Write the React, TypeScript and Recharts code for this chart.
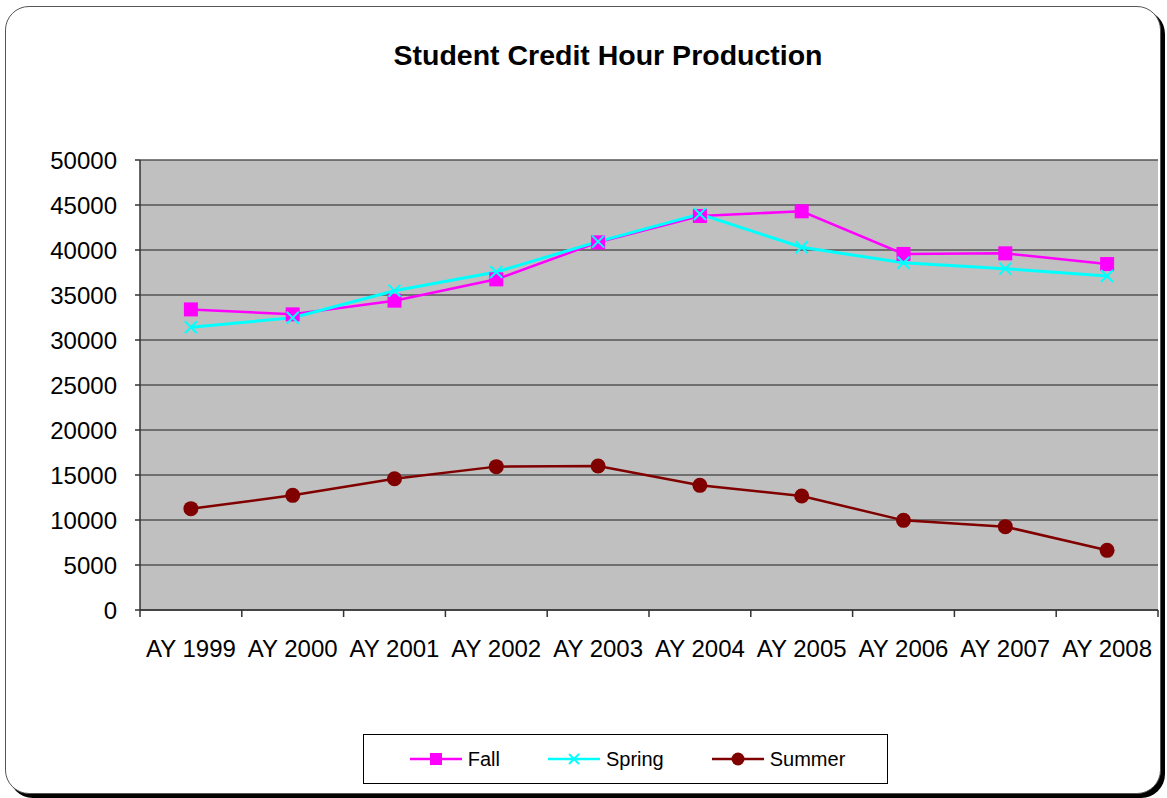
import { CartesianGrid, Legend, Line, LineChart, XAxis, YAxis } from 'recharts'

const years = ['AY 1999', 'AY 2000', 'AY 2001', 'AY 2002', 'AY 2003', 'AY 2004', 'AY 2005', 'AY 2006', 'AY 2007', 'AY 2008']
const fall = [33400, 32850, 34370, 36740, 40850, 43780, 44300, 39560, 39630, 38440]
const spring = [31410, 32480, 35480, 37560, 40930, 44000, 40300, 38590, 37930, 37110]
const summer = [11260, 12740, 14590, 15930, 16000, 13850, 12670, 9960, 9260, 6630]
const yTicks = [0, 5000, 10000, 15000, 20000, 25000, 30000, 35000, 40000, 45000, 50000]

const data = years.map((year, i) => ({ year, fall: fall[i], spring: spring[i], summer: summer[i] }))

const FONT = '"Liberation Sans", Arial, sans-serif'
const FALL = '#FF00FF'
const SPRING = '#00FFFF'
const SUMMER = '#800000'

const SquareDot = (props: any) => {
  const { cx, cy } = props
  if (cx == null || cy == null) return null
  return <rect x={cx - 7} y={cy - 7} width={14} height={14} fill={FALL} />
}

const CrossDot = (props: any) => {
  const { cx, cy } = props
  if (cx == null || cy == null) return null
  return (
    <g stroke={SPRING} strokeWidth={2}>
      <line x1={cx - 6} y1={cy - 6} x2={cx + 6} y2={cy + 6} />
      <line x1={cx - 6} y1={cy + 6} x2={cx + 6} y2={cy - 6} />
    </g>
  )
}

const CircleDot = (props: any) => {
  const { cx, cy } = props
  if (cx == null || cy == null) return null
  return <circle cx={cx} cy={cy} r={7.5} fill={SUMMER} />
}

// excel puts the tick marks between categories, label in the middle
const YearTick = (props: any) => {
  const { x, y, payload, index } = props
  const half = payload?.offset ?? 0
  return (
    <g>
      <line x1={x - half} y1={y} x2={x - half} y2={y + 7} stroke="#333" strokeWidth={1.5} />
      {index === years.length - 1 && (
        <line x1={x + half} y1={y} x2={x + half} y2={y + 7} stroke="#333" strokeWidth={1.5} />
      )}
      <text x={x} y={y + 47} textAnchor="middle" fill="#000" fontSize={24} fontFamily={FONT}>
        {payload.value}
      </text>
    </g>
  )
}

const legendItems = [
  { name: 'Fall', color: FALL, marker: 'square' },
  { name: 'Spring', color: SPRING, marker: 'cross' },
  { name: 'Summer', color: SUMMER, marker: 'circle' },
]

const LegendBox = () => (
  <div
    style={{
      width: 525,
      height: 50,
      boxSizing: 'border-box',
      border: '1px solid #000',
      background: '#fff',
      display: 'flex',
      alignItems: 'center',
      justifyContent: 'center',
      gap: 48,
      fontFamily: FONT,
      fontSize: 20,
      color: '#000',
      paddingLeft: 4,
    }}
  >
    {legendItems.map((item) => (
      <div key={item.name} style={{ display: 'flex', alignItems: 'center', gap: 6 }}>
        <svg width={52} height={16}>
          <line x1={0} y1={8} x2={52} y2={8} stroke={item.color} strokeWidth={2.5} />
          {item.marker === 'square' && <rect x={20} y={2} width={12} height={12} fill={item.color} />}
          {item.marker === 'cross' && (
            <g stroke={item.color} strokeWidth={2}>
              <line x1={21} y1={3} x2={31} y2={13} />
              <line x1={21} y1={13} x2={31} y2={3} />
            </g>
          )}
          {item.marker === 'circle' && <circle cx={26} cy={8} r={6.5} fill={item.color} />}
        </svg>
        <span>{item.name}</span>
      </div>
    ))}
  </div>
)

const App = () => {
  return (
    <div style={{ position: 'absolute', left: 0, top: 0, width: 1167, height: 798, background: '#fff' }}>
      <div
        style={{
          position: 'absolute',
          left: 5,
          top: 6,
          width: 1154,
          height: 786,
          border: '1px solid #555',
          borderRadius: 24,
          boxShadow: '4px 4px 0 #000',
          background: '#fff',
        }}
      />
      <div
        style={{
          position: 'absolute',
          left: 0,
          top: 39,
          width: 1216,
          textAlign: 'center',
          fontFamily: FONT,
          fontWeight: 'bold',
          fontSize: 28.5,
          color: '#000',
        }}
      >
        Student Credit Hour Production
      </div>
      <div style={{ position: 'absolute', left: 0, top: 0 }}>
        <LineChart width={1167} height={798} data={data} margin={{ top: 160, right: 9, bottom: 128, left: 0 }}>
          <CartesianGrid vertical={false} fill="#C0C0C0" fillOpacity={1} stroke="#555" strokeWidth={1.5} />
          <XAxis
            dataKey="year"
            scale="band"
            height={60}
            tickSize={0}
            tickMargin={0}
            tickLine={false}
            axisLine={{ stroke: '#333', strokeWidth: 1.5 }}
            tick={<YearTick />}
            interval={0}
          />
          <YAxis
            width={140}
            domain={[0, 50000]}
            ticks={yTicks}
            interval={0}
            tickSize={5}
            tickMargin={18}
            tickLine={{ stroke: '#333', strokeWidth: 1.5 }}
            axisLine={{ stroke: '#333', strokeWidth: 1.5 }}
            tick={{ fill: '#000', fontSize: 24, fontFamily: FONT }}
          />
          <YAxis yAxisId="right" orientation="right" width={0} tick={false} tickLine={false} axisLine={{ stroke: '#555', strokeWidth: 1.5 }} />
          <Legend
            layout="horizontal"
            verticalAlign="middle"
            align="center"
            wrapperStyle={{ position: 'absolute', left: 363, top: 734, width: 525, height: 50 }}
            content={<LegendBox />}
          />
          <Line dataKey="fall" name="Fall" stroke={FALL} strokeWidth={2.5} dot={<SquareDot />} activeDot={false} isAnimationActive={false} />
          <Line dataKey="spring" name="Spring" stroke={SPRING} strokeWidth={3} dot={<CrossDot />} activeDot={false} isAnimationActive={false} />
          <Line dataKey="summer" name="Summer" stroke={SUMMER} strokeWidth={2.5} dot={<CircleDot />} activeDot={false} isAnimationActive={false} />
        </LineChart>
      </div>
    </div>
  )
}

export default App
